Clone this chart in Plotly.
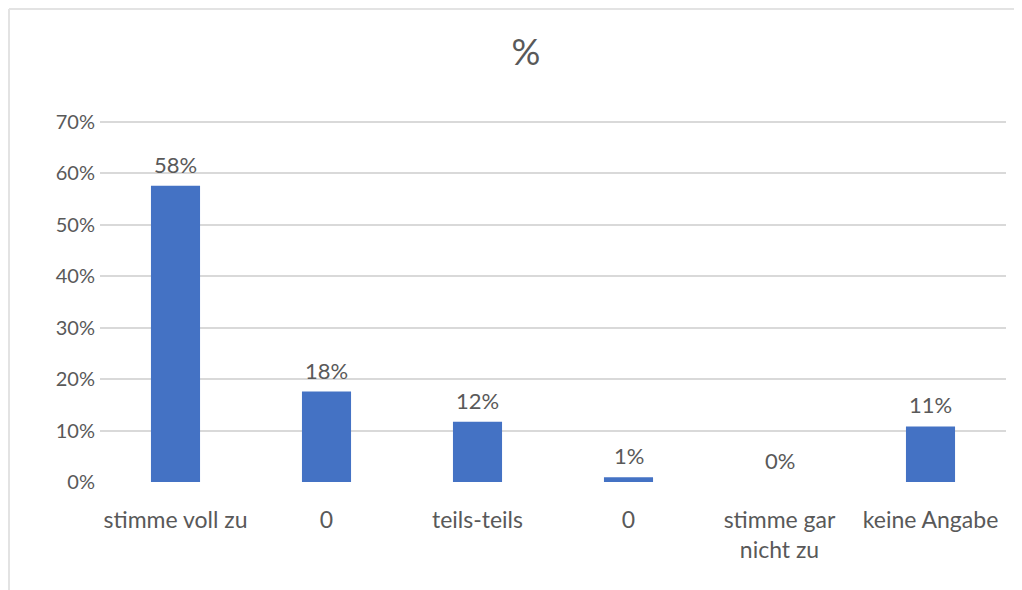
import plotly.graph_objects as go

categories = ["stimme voll zu", "0", "teils-teils", "0", "stimme gar<br>nicht zu", "keine Angabe"]
values = [57.6, 17.6, 11.7, 0.9, 0.0, 10.8]
labels = ["58%", "18%", "12%", "1%", "0%", "11%"]
y_ticks = [0, 10, 20, 30, 40, 50, 60, 70]
y_ticktext = [f"{v}%" for v in y_ticks]

positions = list(range(len(categories)))
font_family = "Lato, Carlito, 'Liberation Sans', sans-serif"
gray = "#595959"

fig = go.Figure()
fig.add_trace(go.Bar(
    x=positions,
    y=values,
    marker=dict(color="#4472C4", line=dict(width=0)),
    width=0.325,
    hoverinfo="skip",
))

for xp, v, lab in zip(positions, values, labels):
    fig.add_annotation(
        x=xp, y=v, xref="x", yref="y", text=lab, showarrow=False,
        yanchor="bottom", yshift=6,
        font=dict(size=22, color=gray, family=font_family),
    )

W, H = 1022, 590
L, R, T, B = 92, 24, 112, 116
pw, ph = W - L - R, H - T - B

def px_x(px):
    return (px - L) / pw

def px_y(py):
    return (H - B - py) / ph

fig.update_layout(
    width=W, height=H,
    margin=dict(l=L, r=R, t=T, b=B),
    paper_bgcolor="white",
    plot_bgcolor="white",
    showlegend=False,
    font=dict(family=font_family, color=gray, size=19),
    title=dict(text="%", x=518 / W, xanchor="center", y=1 - 44 / H, yanchor="middle",
               font=dict(size=36, color=gray, family=font_family)),
    xaxis=dict(
        tickmode="array", tickvals=positions, ticktext=categories,
        range=[-0.5, len(categories) - 0.5],
        showgrid=False, zeroline=False, showline=False, ticks="",
        ticklabelstandoff=22,
        tickfont=dict(size=23, color=gray),
    ),
    yaxis=dict(
        range=[0, 70.4], tickmode="array", tickvals=y_ticks, ticktext=y_ticktext,
        showgrid=True, gridcolor="#d9d9d9", gridwidth=1.5,
        zeroline=False, showline=False, ticks="", ticklabelstandoff=4,
        tickfont=dict(size=20, color=gray),
    ),
    shapes=[
        dict(type="line", xref="paper", yref="paper",
             x0=px_x(1), x1=px_x(1), y0=px_y(1), y1=px_y(600),
             line=dict(color="#e3e3e3", width=2)),
        dict(type="line", xref="paper", yref="paper",
             x0=px_x(1), x1=px_x(1030), y0=px_y(1), y1=px_y(1),
             line=dict(color="#e3e3e3", width=2)),
    ],
)

fig.write_html("out.html")
